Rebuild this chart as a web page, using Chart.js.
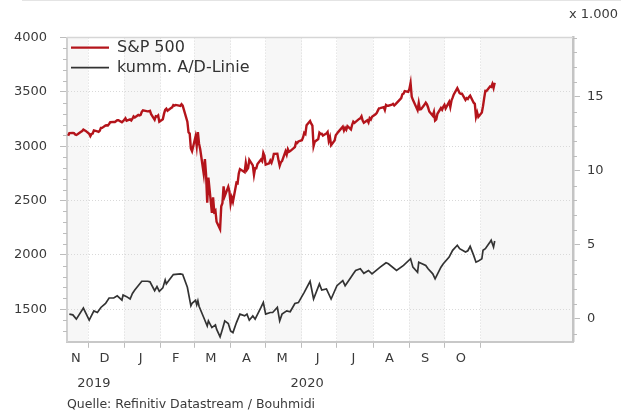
<!DOCTYPE html>
<html>
<head>
<meta charset="utf-8">
<script src="https://cdn.jsdelivr.net/npm/chart.js@4.4.1/dist/chart.umd.min.js"></script>
<style>
  html, body { margin: 0; padding: 0; background: #fff; }
  #wrap { position: relative; width: 621px; height: 416px; }
  #topline { position: absolute; left: 22px; right: 0; top: 0; height: 1px; background: #e4e4e4; }
</style>
</head>
<body>
<div id="wrap">
  <div id="topline"></div>
  <canvas id="chart" width="621" height="416"></canvas>
</div>
<script>
// S&P 500 closes (left axis)
const spx = [
  ['2019-11-14',3096.6],['2019-11-15',3120.5],['2019-11-18',3122.0],['2019-11-19',3120.2],['2019-11-20',3108.5],['2019-11-21',3103.5],['2019-11-22',3110.3],['2019-11-25',3133.6],['2019-11-26',3140.5],['2019-11-27',3153.6],['2019-11-29',3141.0],
  ['2019-12-02',3113.9],['2019-12-03',3093.2],['2019-12-04',3112.8],['2019-12-05',3117.4],['2019-12-06',3145.9],['2019-12-09',3136.0],['2019-12-10',3132.5],['2019-12-11',3141.6],['2019-12-12',3168.6],['2019-12-13',3168.8],['2019-12-16',3191.5],['2019-12-17',3192.5],['2019-12-18',3191.1],['2019-12-19',3205.4],['2019-12-20',3221.2],['2019-12-23',3224.0],['2019-12-24',3223.4],['2019-12-26',3239.9],['2019-12-27',3240.0],['2019-12-30',3221.3],['2019-12-31',3230.8],
  ['2020-01-02',3257.9],['2020-01-03',3234.9],['2020-01-06',3246.3],['2020-01-07',3237.2],['2020-01-08',3253.1],['2020-01-09',3274.7],['2020-01-10',3265.4],['2020-01-13',3288.1],['2020-01-14',3283.2],['2020-01-15',3289.3],['2020-01-16',3316.8],['2020-01-17',3329.6],['2020-01-21',3320.8],['2020-01-22',3321.8],['2020-01-23',3325.5],['2020-01-24',3295.5],['2020-01-27',3243.6],['2020-01-28',3276.2],['2020-01-29',3273.4],['2020-01-30',3283.7],['2020-01-31',3225.5],
  ['2020-02-03',3248.9],['2020-02-04',3297.6],['2020-02-05',3334.7],['2020-02-06',3345.8],['2020-02-07',3327.7],['2020-02-10',3352.1],['2020-02-11',3357.8],['2020-02-12',3379.5],['2020-02-13',3373.9],['2020-02-14',3380.2],['2020-02-18',3370.3],['2020-02-19',3386.2],['2020-02-20',3373.2],['2020-02-21',3337.8],['2020-02-24',3225.9],['2020-02-25',3128.2],['2020-02-26',3116.4],['2020-02-27',2978.8],['2020-02-28',2954.2],
  ['2020-03-02',3090.2],['2020-03-03',3003.4],['2020-03-04',3130.1],['2020-03-05',3023.9],['2020-03-06',2972.4],['2020-03-09',2746.6],['2020-03-10',2882.2],['2020-03-11',2741.4],['2020-03-12',2480.6],['2020-03-13',2711.0],['2020-03-16',2386.1],['2020-03-17',2529.2],['2020-03-18',2398.1],['2020-03-19',2409.4],['2020-03-20',2304.9],['2020-03-23',2237.4],['2020-03-24',2447.3],['2020-03-25',2475.6],['2020-03-26',2630.1],['2020-03-27',2541.5],['2020-03-30',2626.7],['2020-03-31',2584.6],
  ['2020-04-01',2470.5],['2020-04-02',2526.9],['2020-04-03',2488.7],['2020-04-06',2663.7],['2020-04-07',2659.4],['2020-04-08',2750.0],['2020-04-09',2789.8],['2020-04-13',2761.6],['2020-04-14',2846.1],['2020-04-15',2783.4],['2020-04-16',2799.6],['2020-04-17',2874.6],['2020-04-20',2823.2],['2020-04-21',2736.6],['2020-04-22',2799.3],['2020-04-23',2797.8],['2020-04-24',2836.7],['2020-04-27',2878.5],['2020-04-28',2863.4],['2020-04-29',2939.5],['2020-04-30',2912.4],
  ['2020-05-01',2830.7],['2020-05-04',2842.7],['2020-05-05',2868.4],['2020-05-06',2848.4],['2020-05-07',2881.2],['2020-05-08',2929.8],['2020-05-11',2930.3],['2020-05-12',2870.1],['2020-05-13',2820.0],['2020-05-14',2852.5],['2020-05-15',2863.7],['2020-05-18',2953.9],['2020-05-19',2922.9],['2020-05-20',2971.6],['2020-05-21',2948.5],['2020-05-22',2955.5],['2020-05-26',2991.8],['2020-05-27',3036.1],['2020-05-28',3029.7],['2020-05-29',3044.3],
  ['2020-06-01',3055.7],['2020-06-02',3080.8],['2020-06-03',3122.9],['2020-06-04',3112.4],['2020-06-05',3193.9],['2020-06-08',3232.4],['2020-06-09',3207.2],['2020-06-10',3190.1],['2020-06-11',3002.1],['2020-06-12',3041.3],['2020-06-15',3066.6],['2020-06-16',3124.7],['2020-06-17',3113.5],['2020-06-18',3115.3],['2020-06-19',3097.7],['2020-06-22',3117.9],['2020-06-23',3131.3],['2020-06-24',3050.3],['2020-06-25',3083.8],['2020-06-26',3009.1],['2020-06-29',3053.2],['2020-06-30',3100.3],
  ['2020-07-01',3115.9],['2020-07-02',3130.0],['2020-07-06',3179.7],['2020-07-07',3145.3],['2020-07-08',3169.9],['2020-07-09',3152.1],['2020-07-10',3185.0],['2020-07-13',3155.2],['2020-07-14',3197.5],['2020-07-15',3226.6],['2020-07-16',3215.6],['2020-07-17',3224.7],['2020-07-20',3251.8],['2020-07-21',3257.3],['2020-07-22',3276.0],['2020-07-23',3235.7],['2020-07-24',3215.6],['2020-07-27',3239.4],['2020-07-28',3218.4],['2020-07-29',3258.4],['2020-07-30',3246.2],['2020-07-31',3271.1],
  ['2020-08-03',3294.6],['2020-08-04',3306.5],['2020-08-05',3327.8],['2020-08-06',3349.2],['2020-08-07',3351.3],['2020-08-10',3360.5],['2020-08-11',3333.7],['2020-08-12',3380.4],['2020-08-13',3373.4],['2020-08-14',3372.9],['2020-08-17',3382.0],['2020-08-18',3389.8],['2020-08-19',3374.9],['2020-08-20',3385.5],['2020-08-21',3397.2],['2020-08-24',3431.3],['2020-08-25',3443.6],['2020-08-26',3478.7],['2020-08-27',3484.6],['2020-08-28',3508.0],['2020-08-31',3500.3],
  ['2020-09-01',3526.7],['2020-09-02',3580.8],['2020-09-03',3455.1],['2020-09-04',3427.0],['2020-09-08',3331.8],['2020-09-09',3399.0],['2020-09-10',3339.2],['2020-09-11',3341.0],['2020-09-14',3383.5],['2020-09-15',3401.2],['2020-09-16',3385.5],['2020-09-17',3357.0],['2020-09-18',3319.5],['2020-09-21',3281.1],['2020-09-22',3315.6],['2020-09-23',3236.9],['2020-09-24',3246.6],['2020-09-25',3298.5],['2020-09-28',3351.6],['2020-09-29',3335.5],['2020-09-30',3363.0],
  ['2020-10-01',3380.8],['2020-10-02',3348.4],['2020-10-05',3408.6],['2020-10-06',3361.0],['2020-10-07',3419.4],['2020-10-08',3446.8],['2020-10-09',3477.1],['2020-10-12',3534.2],['2020-10-13',3511.9],['2020-10-14',3488.7],['2020-10-15',3483.3],['2020-10-16',3483.8],['2020-10-19',3426.9],['2020-10-20',3443.1],['2020-10-21',3435.6],['2020-10-22',3453.5],['2020-10-23',3465.4],['2020-10-26',3401.0],['2020-10-27',3390.7],['2020-10-28',3271.0],['2020-10-29',3310.1],['2020-10-30',3270.0],
  ['2020-11-02',3310.2],['2020-11-03',3369.2],['2020-11-04',3443.4],['2020-11-05',3510.5],['2020-11-06',3509.4],['2020-11-09',3550.5],['2020-11-10',3545.5],['2020-11-11',3572.7],['2020-11-12',3537.0],['2020-11-13',3585.2]
];

// cumulative advance/decline line, thousands (right axis)
const adLine = [
  ['2019-11-15',0.32],['2019-11-18',0.27],['2019-11-21',-0.02],['2019-11-27',0.73],['2019-12-02',-0.09],['2019-12-06',0.54],['2019-12-09',0.43],['2019-12-12',0.77],['2019-12-16',1.04],['2019-12-19',1.41],['2019-12-23',1.41],['2019-12-26',1.56],['2019-12-30',1.27],['2019-12-31',1.61],
  ['2020-01-03',1.50],['2020-01-06',1.34],['2020-01-08',1.72],['2020-01-10',1.95],['2020-01-16',2.54],['2020-01-21',2.54],['2020-01-23',2.50],['2020-01-27',1.90],['2020-01-29',2.18],['2020-01-31',1.86],
  ['2020-02-03',2.09],['2020-02-05',2.63],['2020-02-06',2.36],['2020-02-07',2.47],['2020-02-12',2.99],['2020-02-18',3.04],['2020-02-20',3.00],['2020-02-24',2.13],['2020-02-27',0.88],['2020-02-28',1.05],
  ['2020-03-02',1.25],['2020-03-03',0.95],['2020-03-04',1.22],['2020-03-05',0.85],['2020-03-09',0.09],['2020-03-12',-0.48],['2020-03-13',-0.14],['2020-03-16',-0.59],['2020-03-19',-0.41],['2020-03-20',-0.70],['2020-03-23',-1.22],['2020-03-25',-0.70],['2020-03-27',-0.14],['2020-03-30',-0.32],
  ['2020-04-01',-0.82],['2020-04-03',-0.93],['2020-04-06',-0.25],['2020-04-09',0.32],['2020-04-13',0.20],['2020-04-15',0.32],['2020-04-17',-0.09],['2020-04-20',0.20],['2020-04-22',-0.02],['2020-04-27',0.77],['2020-04-29',1.11],
  ['2020-05-01',0.32],['2020-05-05',0.43],['2020-05-07',0.43],['2020-05-11',0.77],['2020-05-13',-0.14],['2020-05-15',0.32],['2020-05-19',0.54],['2020-05-22',0.48],['2020-05-26',1.04],['2020-05-29',1.10],
  ['2020-06-03',1.79],['2020-06-08',2.54],['2020-06-11',1.34],['2020-06-16',2.36],['2020-06-18',1.95],['2020-06-22',2.02],['2020-06-26',1.34],
  ['2020-07-01',2.24],['2020-07-06',2.58],['2020-07-08',2.24],['2020-07-13',2.81],['2020-07-15',3.04],['2020-07-17',3.27],['2020-07-21',3.38],['2020-07-24',3.08],['2020-07-28',3.27],['2020-07-31',3.04],
  ['2020-08-07',3.49],['2020-08-12',3.79],['2020-08-14',3.72],['2020-08-21',3.27],['2020-08-27',3.61],
  ['2020-09-02',4.06],['2020-09-04',3.49],['2020-09-08',3.15],['2020-09-09',3.83],['2020-09-15',3.61],['2020-09-17',3.38],['2020-09-21',3.04],['2020-09-23',2.70],['2020-09-28',3.49],['2020-09-30',3.72],
  ['2020-10-05',4.17],['2020-10-08',4.63],['2020-10-12',4.97],['2020-10-14',4.74],['2020-10-19',4.51],['2020-10-21',4.60],['2020-10-23',4.90],['2020-10-26',4.29],['2020-10-28',3.83],['2020-10-30',3.90],
  ['2020-11-02',4.06],['2020-11-03',4.63],['2020-11-05',4.74],['2020-11-09',5.19],['2020-11-10',5.31],['2020-11-11',5.08],['2020-11-12',4.85],['2020-11-13',5.26]
];

const monthStarts = ['2019-11-01','2019-12-01','2020-01-01','2020-02-01','2020-03-01','2020-04-01','2020-05-01','2020-06-01','2020-07-01','2020-08-01','2020-09-01','2020-10-01','2020-11-01'];
const monthLabels = ['N','D','J','F','M','A','M','J','J','A','S','O'];
const yearLabels = ['2019','2020'];
const yearStarts = ['2020-01-01'];
const leftMajor = [1500, 2000, 2500, 3000, 3500, 4000];
const rightMajor = [0, 5, 10, 15];
const xMin = '2019-11-13', xMax = '2021-01-19';

// day count since 1 Nov 2019
function day(s) {
    const p = s.split('-').map(Number);
    return (Date.UTC(p[0], p[1] - 1, p[2]) - Date.UTC(2019, 10, 1)) / 86400000;
}

const dMin = day(xMin), dMax = day(xMax);
const boundaries = monthStarts.slice(1).map(day);
const labelAt = new Map();
monthLabels.forEach((l, i) => {
    const a = Math.max(day(monthStarts[i]), dMin);
    const b = day(monthStarts[i + 1]);
    labelAt.set((a + b) / 2 - 1.5, l);
});
const firstDay = day(spx[0][0]), lastDay = day(spx[spx.length - 1][0]);
const yearAt = new Map();
yearAt.set((firstDay + day(yearStarts[0])) / 2 - 2, yearLabels[0]);
yearAt.set((day(yearStarts[0]) + lastDay) / 2 - 2, yearLabels[1]);

const xTicks = boundaries.concat([...labelAt.keys()]).sort((a, b) => a - b);
const leftTicks = [], rightTicks = [];
for (let v = 1300; v <= 4000; v += 100) leftTicks.push(v);
for (let v = -1; v <= 19; v++) rightTicks.push(v);

const TEXT = '#3a3a3a';
const GRID = '#d9d9d9';
const TICK = '#bdbdbd';
const NONE = 'rgba(0,0,0,0)';
Chart.defaults.font.family = "'DejaVu Sans', Verdana, sans-serif";
Chart.defaults.color = TEXT;

// alternating month shading in the plot area, top frame line, minor ticks
const framePlugin = {
    id: 'frame',
    afterLayout(chart) {
        // vertical legends reset their top to 0; put it back into the plot area
        const l = chart.legend, a = chart.chartArea;
        if (l && a) {
            l.top = a.top - 2;
            l.bottom = a.bottom;
        }
    },
    beforeDraw(chart) {
        const {ctx, chartArea: a, scales: {x}} = chart;
        ctx.save();
        ctx.fillStyle = '#fff';
        ctx.fillRect(a.left, a.top, a.width, a.height);
        ctx.fillStyle = '#f7f7f7';
        monthStarts.forEach((m, i) => {
            if (i % 2) return;
            const x0 = Math.max(x.getPixelForValue(day(m)), a.left);
            const x1 = i + 1 < monthStarts.length ? x.getPixelForValue(day(monthStarts[i + 1])) : a.right;
            ctx.fillRect(x0, a.top, x1 - x0, a.height);
        });
        ctx.restore();
    },
    afterDraw(chart) {
        const {ctx, chartArea: a} = chart;
        ctx.save();
        ctx.strokeStyle = '#d6d6d6';
        ctx.lineWidth = 1.5;
        ctx.beginPath();
        ctx.moveTo(a.left, a.top);
        ctx.lineTo(a.right, a.top);
        ctx.stroke();
        ctx.strokeStyle = TICK;
        ctx.lineWidth = 1;
        [['y', 500], ['y1', 5]].forEach(([id, step]) => {
            const s = chart.scales[id];
            s.ticks.forEach(t => {
                if (t.value % step === 0) return;
                const py = Math.round(s.getPixelForValue(t.value)) + 0.5;
                const x0 = id === 'y' ? s.right : s.left;
                const x1 = id === 'y' ? s.right - 4 : s.left + 4;
                ctx.beginPath();
                ctx.moveTo(x0, py);
                ctx.lineTo(x1, py);
                ctx.stroke();
            });
        });
        ctx.restore();
    }
};

const ctx = document.getElementById('chart').getContext('2d');
new Chart(ctx, {
    type: 'line',
    data: {
        datasets: [{
            label: 'S&P 500',
            data: spx.map(p => ({x: day(p[0]), y: p[1]})),
            yAxisID: 'y',
            borderColor: '#b4141b',
            borderWidth: 2.4,
            pointRadius: 0,
            tension: 0
        }, {
            label: 'kumm. A/D-Linie',
            data: adLine.map(p => ({x: day(p[0]), y: p[1]})),
            yAxisID: 'y1',
            borderColor: '#333333',
            borderWidth: 1.7,
            pointRadius: 0,
            tension: 0
        }]
    },
    options: {
        responsive: false,
        animation: false,
        layout: { padding: { left: 0, right: 3, top: 0, bottom: 0 } },
        plugins: {
            legend: {
                position: 'chartArea',
                align: 'start',
                labels: {
                    usePointStyle: true,
                    pointStyle: 'line',
                    pointStyleWidth: 38,
                    padding: 4,
                    color: '#333',
                    font: { size: 16 }
                }
            },
            title: {
                display: true,
                text: 'x 1.000',
                align: 'end',
                color: TEXT,
                font: { size: 13, weight: 'normal' },
                padding: { top: 7, bottom: 15 }
            },
            subtitle: {
                display: true,
                text: 'Quelle: Refinitiv Datastream / Bouhmidi',
                position: 'bottom',
                align: 'start',
                fullSize: false,
                color: TEXT,
                font: { size: 12.5 },
                padding: { top: 0.5, bottom: 3.5 }
            },
            tooltip: { enabled: false }
        },
        scales: {
            x: {
                type: 'linear',
                min: dMin,
                max: dMax,
                afterBuildTicks: s => { s.ticks = xTicks.map(v => ({value: v})); },
                ticks: {
                    autoSkip: false,
                    maxRotation: 0,
                    padding: 3,
                    font: { size: 13 },
                    callback: v => labelAt.get(v) || ''
                },
                grid: {
                    color: c => c.tick && boundaries.includes(c.tick.value) ? GRID : NONE,
                    tickColor: c => c.tick && boundaries.includes(c.tick.value) ? TICK : NONE,
                    tickLength: 6
                },
                border: { color: '#c8c8c8', width: 2, dash: [1, 2] }
            },
            x2: {
                type: 'linear',
                position: 'bottom',
                min: dMin,
                max: dMax,
                afterBuildTicks: s => { s.ticks = [...yearAt.keys()].map(v => ({value: v})); },
                ticks: {
                    autoSkip: false,
                    maxRotation: 0,
                    padding: 6,
                    font: { size: 13 },
                    callback: v => yearAt.get(v) || ''
                },
                grid: { display: false, drawTicks: false },
                border: { display: false }
            },
            y: {
                type: 'linear',
                position: 'left',
                min: 1200,
                max: 4000,
                afterBuildTicks: s => { s.ticks = leftTicks.map(v => ({value: v})); },
                afterFit: s => { s.width = 67; },
                ticks: {
                    autoSkip: false,
                    padding: 13,
                    font: { size: 13 },
                    callback: v => leftMajor.includes(v) ? String(v) : ''
                },
                grid: {
                    color: c => c.tick && leftMajor.includes(c.tick.value) ? GRID : NONE,
                    tickColor: c => c.tick && leftMajor.includes(c.tick.value) ? TICK : NONE,
                    tickLength: 7
                },
                border: { color: '#d0d0d0', width: 2, dash: [1, 2] }
            },
            y1: {
                type: 'linear',
                position: 'right',
                min: -1.55,
                max: 19.0,
                afterBuildTicks: s => { s.ticks = rightTicks.map(v => ({value: v})); },
                afterFit: s => { s.width = 45; },
                ticks: {
                    autoSkip: false,
                    padding: 7,
                    font: { size: 13 },
                    callback: v => rightMajor.includes(v) ? String(v) : ''
                },
                grid: {
                    drawOnChartArea: false,
                    tickColor: c => c.tick && rightMajor.includes(c.tick.value) ? TICK : NONE,
                    tickLength: 7
                },
                border: { color: '#c4c4c4', width: 2.5 }
            }
        }
    },
    plugins: [framePlugin]
});
</script>
</body>
</html>
